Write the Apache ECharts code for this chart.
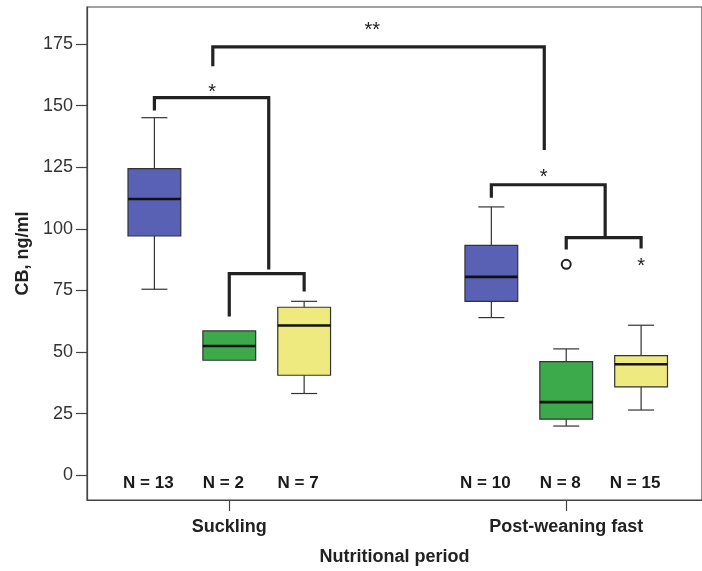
<!DOCTYPE html>
<html>
<head>
<meta charset="utf-8">
<script src="https://cdn.jsdelivr.net/npm/echarts@6/dist/echarts.min.js"></script>
<style>
  html, body { margin: 0; padding: 0; background: #fff; }
  #chart { width: 702px; height: 571px; }
</style>
</head>
<body>
<div id="chart"></div>
<script>
// Cortisol-binding (CB) levels per nutritional period, three diet groups each
const periods = ['Suckling', 'Post-weaning fast'];
const whiskerLow  = [75.5, 46.7, 33.2, 64.0, 20.0, 26.5];
const quartile1   = [97.1, 46.7, 40.6, 70.6, 22.8, 35.9];
const medians     = [112.1, 52.5, 60.8, 80.5, 29.7, 45.1];
const quartile3   = [124.4, 58.6, 68.2, 93.3, 46.1, 48.6];
const whiskerHigh = [145.1, 58.6, 70.6, 108.9, 51.3, 60.9];
const sampleSizes = [13, 2, 7, 10, 8, 15];
const outlierBox   = [4];
const outlierValue = [85.6];
const extremeBox   = [5];
const extremeValue = [87.2];
const yTicks = [0, 25, 50, 75, 100, 125, 150, 175];

const FONT = '"Liberation Sans", Arial, sans-serif';
const boxFill = ['#5861b4', '#3caa4b', '#efea80'];

// x position of each box: group centre plus slot offset
const groupCentre = [2, 6.5];
const boxPos = sampleSizes.map((_, i) => groupCentre[Math.floor(i / 3)] + (i % 3) - 1);

const boxData = boxPos.map((x, i) => [x, whiskerLow[i], quartile1[i], medians[i], quartile3[i], whiskerHigh[i], i % 3]);

// significance brackets: [xLeft, yLeftFoot, yTop, xRight, yRightFoot]
const brackets = [
  [1.78, 166, 173.8, 6.207, 132],
  [boxPos[0], 148, 153.2, 2.527, 83.5],
  [boxPos[1], 64.4, 81.8, boxPos[2], 74.6],
  [boxPos[3], 112.6, 117.9, 7.02, 96.8],
  [boxPos[4], 91.6, 96.4, boxPos[5], 92.0]
];
const sigMarks = [
  { x: 3.91, y: 182.3, text: '**' },
  { x: 1.77, y: 157.5, text: '*' },
  { x: 6.2, y: 122.8, text: '*' }
];

const chart = echarts.init(document.getElementById('chart'), null, { renderer: 'canvas' });

function renderBox(params, api) {
  const x = api.value(0);
  const lo = api.value(1), q1 = api.value(2), md = api.value(3), q3 = api.value(4), hi = api.value(5);
  const colorIdx = api.value(6);
  const half = api.size([0.705, 0])[0] / 2;
  const cap = 13;
  const pLo = api.coord([x, lo]), pQ1 = api.coord([x, q1]), pMd = api.coord([x, md]);
  const pQ3 = api.coord([x, q3]), pHi = api.coord([x, hi]);
  const cx = pMd[0];
  const line = { stroke: '#333', lineWidth: 1.2 };
  const children = [];
  if (hi > q3) {
    children.push({ type: 'line', shape: { x1: cx, y1: pQ3[1], x2: cx, y2: pHi[1] }, style: line });
    children.push({ type: 'line', shape: { x1: cx - cap, y1: pHi[1], x2: cx + cap, y2: pHi[1] }, style: line });
  }
  if (lo < q1) {
    children.push({ type: 'line', shape: { x1: cx, y1: pQ1[1], x2: cx, y2: pLo[1] }, style: line });
    children.push({ type: 'line', shape: { x1: cx - cap, y1: pLo[1], x2: cx + cap, y2: pLo[1] }, style: line });
  }
  children.push({
    type: 'rect',
    shape: { x: cx - half, y: pQ3[1], width: half * 2, height: pQ1[1] - pQ3[1] },
    style: { fill: boxFill[colorIdx], stroke: '#333', lineWidth: 1.2 }
  });
  children.push({ type: 'line', shape: { x1: cx - half, y1: pMd[1], x2: cx + half, y2: pMd[1] }, style: { stroke: '#111', lineWidth: 2.6 } });
  return { type: 'group', children };
}

const bracketSeries = brackets.map(b => ({
  type: 'line',
  data: [[b[0], b[1]], [b[0], b[2]], [b[3], b[2]], [b[3], b[4]]],
  symbol: 'none',
  silent: true,
  lineStyle: { color: '#222', width: 3.2, cap: 'butt', join: 'miter' },
  z: 5
}));

// plain text labels without the automatic inside stroke
const textOnly = { textBorderWidth: 0, textBorderColor: 'transparent', textShadowBlur: 0 };

const option = {
  animation: false,
  backgroundColor: '#fff',
  grid: { left: 87, top: 7, right: -1, bottom: 70, show: true, borderColor: '#444', borderWidth: 1.2 },
  xAxis: {
    type: 'value',
    min: 0.1,
    max: 8.3133,
    name: 'Nutritional period',
    nameLocation: 'middle',
    nameGap: 48,
    nameTextStyle: { fontFamily: FONT, fontSize: 18, fontWeight: 'bold', color: '#222' },
    splitLine: { show: false },
    axisLine: { show: true, onZero: false, lineStyle: { color: '#444', width: 1.2 } },
    axisTick: { show: true, customValues: groupCentre, length: 11, inside: false, lineStyle: { color: '#444', width: 1.2 } },
    axisLabel: {
      customValues: groupCentre,
      formatter: v => periods[groupCentre.indexOf(v)] || '',
      margin: 18,
      fontFamily: FONT, fontSize: 18, fontWeight: 'bold', color: '#222'
    }
  },
  yAxis: {
    type: 'value',
    min: -10,
    max: 190,
    name: 'CB, ng/ml',
    nameLocation: 'middle',
    nameGap: 54,
    nameRotate: 90,
    nameTextStyle: { fontFamily: FONT, fontSize: 18, fontWeight: 'bold', color: '#222' },
    splitLine: { show: false },
    axisLine: { show: true, onZero: false, lineStyle: { color: '#444', width: 1.2 } },
    axisTick: { show: true, customValues: yTicks, length: 11, inside: false, lineStyle: { color: '#444', width: 1.2 } },
    axisLabel: { customValues: yTicks, margin: 14, fontFamily: FONT, fontSize: 18, color: '#333' }
  },
  series: [
    {
      type: 'custom',
      renderItem: renderBox,
      data: boxData,
      encode: { x: 0, y: [1, 2, 3, 4, 5] },
      z: 3
    },
    {
      type: 'scatter',
      data: outlierBox.map((b, i) => [boxPos[b], outlierValue[i]]),
      symbol: 'emptyCircle',
      symbolSize: 9,
      itemStyle: { color: '#222', borderColor: '#222', borderWidth: 1.4, opacity: 1 },
      z: 4
    },
    {
      type: 'scatter',
      data: extremeBox.map((b, i) => [boxPos[b], extremeValue[i]]),
      symbolSize: 0,
      itemStyle: { color: '#fff', opacity: 1 },
      label: Object.assign({ show: true, position: 'inside', formatter: '*', fontFamily: FONT, fontSize: 20, color: '#222', offset: [0, 6] }, textOnly),
      z: 4
    },
    {
      type: 'scatter',
      data: boxPos.map((x, i) => ({ value: [x - 0.08, -3.2], n: sampleSizes[i] })),
      symbolSize: 0,
      itemStyle: { color: '#fff', opacity: 1 },
      label: Object.assign({
        show: true, position: 'inside',
        formatter: p => 'N = ' + p.data.n,
        fontFamily: FONT, fontSize: 17, fontWeight: 'bold', color: '#1a1a1a'
      }, textOnly),
      z: 4
    },
    {
      type: 'scatter',
      data: sigMarks.map(m => ({ value: [m.x, m.y], text: m.text })),
      symbolSize: 0,
      itemStyle: { color: '#fff', opacity: 1 },
      label: Object.assign({
        show: true, position: 'inside',
        formatter: p => p.data.text,
        fontFamily: FONT, fontSize: 20, color: '#222', offset: [0, 5]
      }, textOnly),
      z: 4
    },
    ...bracketSeries
  ]
};

chart.setOption(option);
</script>
</body>
</html>
